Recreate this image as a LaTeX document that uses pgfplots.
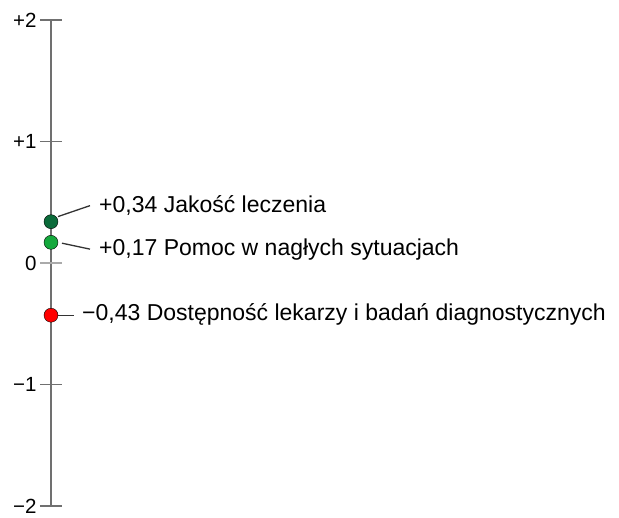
\documentclass[border=0pt]{standalone}
\usepackage{fontspec}
\setmainfont{Liberation Sans}
\usepackage{pgfplots}
\pgfplotsset{compat=1.18}
\definecolor{axgray}{HTML}{707070}
\definecolor{zgray}{HTML}{AAAAAA}
\definecolor{dgreen}{HTML}{0B6B3A}
\definecolor{mgreen}{HTML}{14A83C}
\definecolor{pred}{HTML}{FF0000}
\begin{document}
\begin{tikzpicture}
\useasboundingbox (-51pt,-12pt) rectangle (568pt,506pt);
\begin{axis}[
  scale only axis,
  width=568pt, height=486pt,
  xmin=51, xmax=619, ymin=-2, ymax=2,
  axis x line=none,
  axis y line=left,
  axis line style={axgray, line width=2.2pt, -},
  ytick={-2,-1,1,2},
  yticklabels={−2,−1,+1,+2},
  extra y ticks={0},
  extra y tick labels={0},
  extra y tick style={major tick style={zgray, line width=1.5pt}},
  major tick length=22pt,
  tick align=center,
  major tick style={axgray, line width=1.5pt},
  yticklabel style={font=\fontsize{20.5}{22}\selectfont, text=black},
  clip=false,
]
\draw[black!80, line width=1.3pt] (axis cs:58,0.382) -- (axis cs:90,0.472);
\draw[black!80, line width=1.3pt] (axis cs:62,0.163) -- (axis cs:90,0.114);
\draw[black!80, line width=1.3pt] (axis cs:58,-0.43) -- (axis cs:74,-0.43);
\addplot[only marks, mark=*, mark size=7pt, draw=none, fill=dgreen] coordinates {(51,0.34)};
\addplot[only marks, mark=*, mark size=7pt, draw=none, fill=mgreen] coordinates {(51,0.17)};
\addplot[only marks, mark=*, mark size=7pt, draw=none, fill=pred] coordinates {(51,-0.43)};
\node[anchor=base west, inner sep=0pt, font=\fontsize{23}{25}\selectfont] at (axis cs:99,0.417) {+0,34 Jakość leczenia};
\node[anchor=base west, inner sep=0pt, font=\fontsize{23}{25}\selectfont] at (axis cs:99,0.059) {+0,17 Pomoc w nagłych sytuacjach};
\node[anchor=base west, inner sep=0pt, font=\fontsize{23}{25}\selectfont] at (axis cs:82,-0.477) {−0,43 Dostępność lekarzy i badań diagnostycznych};
\end{axis}
\end{tikzpicture}
\end{document}
